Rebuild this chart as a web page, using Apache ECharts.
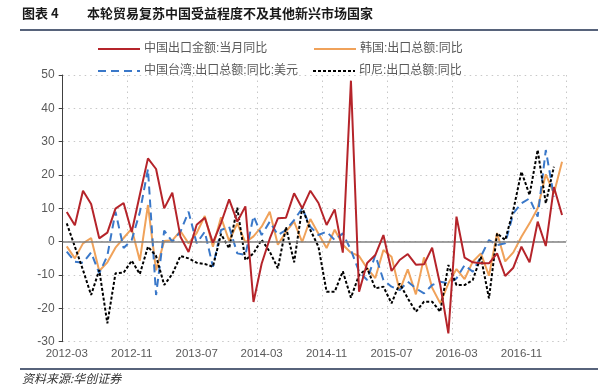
<!DOCTYPE html>
<html>
<head>
<meta charset="utf-8">
<script src="https://cdn.jsdelivr.net/npm/echarts@6/dist/echarts.min.js"></script>
<style>
html,body{margin:0;padding:0;background:#fff;}
#chart{width:600px;height:391px;}
</style>
</head>
<body>
<div id="chart"></div>
<script>
var categories = [
'2012-03','2012-04','2012-05','2012-06','2012-07','2012-08','2012-09','2012-10','2012-11','2012-12',
'2013-01','2013-02','2013-03','2013-04','2013-05','2013-06','2013-07','2013-08','2013-09','2013-10',
'2013-11','2013-12','2014-01','2014-02','2014-03','2014-04','2014-05','2014-06','2014-07','2014-08',
'2014-09','2014-10','2014-11','2014-12','2015-01','2015-02','2015-03','2015-04','2015-05','2015-06',
'2015-07','2015-08','2015-09','2015-10','2015-11','2015-12','2016-01','2016-02','2016-03','2016-04',
'2016-05','2016-06','2016-07','2016-08','2016-09','2016-10','2016-11','2016-12','2017-01','2017-02',
'2017-03','2017-04'];

var chinaExport = [
8.9, 4.9, 15.3, 11.3, 1.0, 2.7, 9.9, 11.6, 2.9, 14.1,
25.0, 21.8, 10.0, 14.7, 1.5, -3.1, 5.1, 7.2, -0.3, 5.6,
12.7, 6.0, 10.6, -18.1, -6.6, 0.9, 7.0, 7.2, 14.5, 10.0,
15.3, 11.6, 5.0, 9.7, -3.3, 48.3, -15.0, -6.4, -4.0, 2.0,
-8.8, -5.5, -3.7, -6.9, -6.8, -1.8, -13.0, -27.5, 7.5, -4.8,
-6.2, -6.5, -6.5, -3.5, -10.3, -7.8, -1.5, -6.2, 6.0, -1.3,
16.4, 8.0];

var koreaExport = [
-1.4, -5.0, -0.5, 1.1, -8.8, -6.2, -1.8, 1.1, 3.9, -5.7,
11.0, -8.6, 0.2, 0.4, 3.2, -0.5, 2.6, 7.7, -1.5, 7.3,
0.2, 5.5, -0.2, 1.6, 4.5, 9.0, -0.9, 3.0, 6.0, -0.1,
6.8, 2.4, -1.9, 3.6, -0.9, -3.3, -4.3, -8.0, -10.9, -2.5,
-4.5, -14.7, -8.3, -15.8, -4.7, -13.8, -18.5, -12.5, -8.2, -11.2,
-6.0, -3.5, -10.2, 2.6, -5.9, -3.2, 1.5, 5.5, 10.0, 20.2,
14.5, 24.0];

var taiwanExport = [
-3.0, -6.0, -6.3, -3.2, -9.5, -4.2, 9.0, -1.9, 0.5, 8.8,
21.8, -16.0, 3.3, 0.0, 3.0, 9.0, -0.5, 3.0, -7.5, 3.5,
4.5, -3.5, -4.0, 7.7, 2.0, 6.0, 2.0, 3.5, 6.5, 10.0,
4.5, 2.0, 3.0, 0.5, 2.5, -2.5, -9.0, -11.5, -4.0, -11.5,
-13.5, -14.5, -12.0, -14.0, -15.5, -13.0, -12.0, -12.5, -11.0, -7.0,
-9.0, -4.5, 0.5, -1.0, -0.5, 8.5, 11.5, 13.0, 7.5, 27.5,
13.5, null];

var indonesiaExport = [
5.5, -1.5, -8.5, -16.0, -8.5, -24.5, -9.5, -9.3, -5.7, -9.7,
-1.5, -4.3, -13.0, -9.7, -4.3, -5.0, -6.3, -6.7, -7.5, 2.3,
-2.0, 10.2, -5.5, -3.5, 0.6, -3.0, -8.0, 4.4, -6.2, 10.3,
3.5, -1.5, -15.0, -15.0, -8.9, -16.8, -10.0, -8.0, -14.0, -13.5,
-18.5, -12.5, -17.0, -21.0, -18.0, -18.0, -21.0, -7.0, -13.0, -13.0,
-11.5, -4.5, -17.0, 2.5, 0.5, 9.5, 21.0, 14.0, 27.5, 11.5,
22.5, null];

var seriesNames = ['中国出口金额:当月同比', '韩国:出口总额:同比', '中国台湾:出口总额:同比:美元', '印尼:出口总额:同比'];
var yTicks = {min: -30, max: 50, interval: 10};

var FONT = "'Liberation Sans', 'Noto Sans CJK SC', sans-serif";
var chart = echarts.init(document.getElementById('chart'), null, {renderer: 'canvas'});

function legendAt(name, left, top) {
  return {
    data: [name], left: left, top: top, orient: 'horizontal',
    itemWidth: 42, itemHeight: 10, itemGap: 4, padding: 0,
    itemStyle: {opacity: 0},
    textStyle: {color: '#595959', fontSize: 12, fontFamily: FONT, padding: [0, 0, 0, -1]},
    selectedMode: false
  };
}

var option = {
  backgroundColor: '#ffffff',
  animation: false,
  textStyle: {fontFamily: FONT},
  graphic: [
    {type: 'text', left: 22, top: 7, style: {text: '图表 4', fill: '#1a1a1a', font: "bold 13px 'Noto Sans CJK SC', sans-serif"}},
    {type: 'text', left: 87, top: 7, style: {text: '本轮贸易复苏中国受益程度不及其他新兴市场国家', fill: '#1a1a1a', font: "bold 13px 'Noto Sans CJK SC', sans-serif"}},
    {type: 'line', shape: {x1: 20, y1: 30, x2: 598, y2: 30}, style: {stroke: '#1f2f4f', lineWidth: 1.5}},
    {type: 'line', shape: {x1: 20, y1: 369, x2: 598, y2: 369}, style: {stroke: '#1f2f4f', lineWidth: 1.5}},
    {type: 'text', left: 22, top: 372, style: {text: '资料来源:华创证券', fill: '#333333', font: "italic 12px 'Noto Sans CJK SC', sans-serif"}}
  ],
  legend: [
    legendAt(seriesNames[0], 97, 43),
    legendAt(seriesNames[1], 313, 43),
    legendAt(seriesNames[2], 97, 65),
    legendAt(seriesNames[3], 312, 65)
  ],
  grid: {left: 62.7, top: 75, width: 503.4, height: 266.7, containLabel: false},
  xAxis: {
    type: 'category',
    data: categories,
    boundaryGap: true,
    axisLine: {show: false, onZero: false},
    axisTick: {show: false},
    axisLabel: {interval: 7, color: '#595959', fontSize: 11.5, margin: 6, fontFamily: FONT},
    splitLine: {show: true, interval: 7, lineStyle: {color: '#c8c8c8', type: [1.5, 4], width: 1}}
  },
  yAxis: {
    type: 'value',
    min: yTicks.min, max: yTicks.max, interval: yTicks.interval,
    axisLine: {show: true, lineStyle: {color: '#404040', width: 1}},
    axisTick: {show: true, length: 4, lineStyle: {color: '#404040'}},
    axisLabel: {color: '#595959', fontSize: 12, margin: 8, fontFamily: FONT},
    splitLine: {show: true, lineStyle: {color: '#c8c8c8', type: [1.5, 4], width: 1}}
  },
  series: [
    {
      name: seriesNames[0], type: 'line', data: chinaExport, symbol: 'none', z: 5,
      lineStyle: {color: '#b5242a', width: 2}, itemStyle: {color: '#b5242a'},
      markLine: {silent: true, symbol: 'none', label: {show: false}, animation: false,
        lineStyle: {color: '#808080', type: 'solid', width: 1.5}, data: [{yAxis: 0}]}
    },
    {
      name: seriesNames[1], type: 'line', data: koreaExport, symbol: 'none', z: 3,
      lineStyle: {color: '#f0a25a', width: 2}, itemStyle: {color: '#f0a25a'}
    },
    {
      name: seriesNames[2], type: 'line', data: taiwanExport, symbol: 'none', z: 4,
      lineStyle: {color: '#3a78c9', width: 2, type: [8, 5]}, itemStyle: {color: '#3a78c9'}
    },
    {
      name: seriesNames[3], type: 'line', data: indonesiaExport, symbol: 'none', z: 4,
      lineStyle: {color: '#000000', width: 2, type: [3, 2]}, itemStyle: {color: '#000000'}
    }
  ]
};
chart.setOption(option);
</script>
</body>
</html>
